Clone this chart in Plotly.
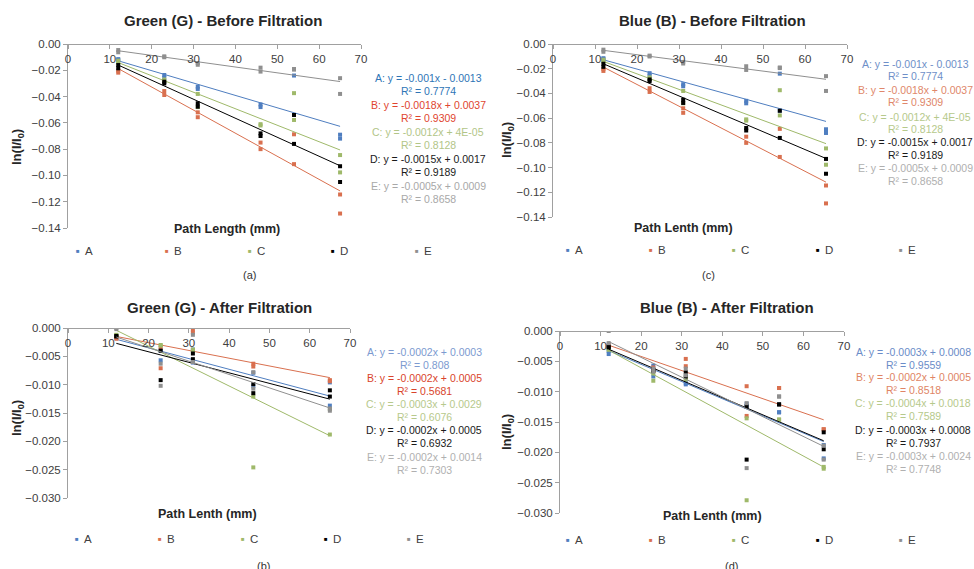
import numpy as np
import plotly.graph_objects as go

W, H = 974, 569
FONT = "Liberation Sans, Arial, sans-serif"

SERIES = ["A", "B", "C", "D", "E"]
MARKER_COLORS = ["#4F7EC0", "#D9704F", "#9FB96A", "#000000", "#8F8F8F"]

# ---------------- data: Green / Blue before filtration (identical readings) ----------------
X_BEFORE = [12, 12, 23, 23, 31, 31, 46, 46, 54, 54, 65, 65]
BEFORE_A = [-0.0115, -0.0122, -0.0236, -0.0256, -0.0325, -0.0342, -0.0460, -0.0480, -0.0240, -0.0540, -0.0690, -0.0720]
BEFORE_B = [-0.0203, -0.0218, -0.0358, -0.0388, -0.0520, -0.0557, -0.0750, -0.0800, -0.0687, -0.0914, -0.1145, -0.1290]
BEFORE_C = [-0.0127, -0.0140, -0.0270, -0.0285, -0.0380, -0.0480, -0.0610, -0.0620, -0.0374, -0.0578, -0.0845, -0.0977]
BEFORE_D = [-0.0160, -0.0185, -0.0287, -0.0300, -0.0451, -0.0477, -0.0680, -0.0700, -0.0540, -0.0760, -0.0930, -0.1050]
BEFORE_E = [-0.0046, -0.0063, -0.0094, -0.0101, -0.0145, -0.0158, -0.0180, -0.0210, -0.0190, -0.0195, -0.0260, -0.0380]

# ---------------- data: Green after filtration ----------------
X_G_AFTER = [12, 12, 23, 23, 31, 31, 46, 46, 65, 65]
G_AFTER_A = [-0.0015, -0.0016, -0.0040, -0.0057, -0.0038, -0.0061, -0.0079, -0.0103, -0.0096, -0.0137]
G_AFTER_B = [-0.0019, -0.0017, -0.0035, -0.0071, -0.0003, -0.0008, -0.0063, -0.0068, -0.0092, -0.0094]
G_AFTER_C = [-0.0012, -0.0013, -0.0030, -0.0031, -0.0038, -0.0040, -0.0121, -0.0246, -0.0188, -0.0143]
G_AFTER_D = [-0.0014, -0.0015, -0.0040, -0.0092, -0.0045, -0.0055, -0.0099, -0.0115, -0.0110, -0.0121]
G_AFTER_E = [0.0000, -0.0002, -0.0063, -0.0102, -0.0012, -0.0060, -0.0078, -0.0107, -0.0142, -0.0146]

# ---------------- data: Blue after filtration ----------------
X_B_AFTER = [12, 12, 23, 23, 31, 31, 46, 46, 54, 54, 65, 65]
B_AFTER_A = [-0.0038, -0.0033, -0.0057, -0.0075, -0.0086, -0.0088, -0.0120, -0.0125, -0.0134, -0.0134, -0.0188, -0.0210]
B_AFTER_B = [-0.0025, -0.0022, -0.0065, -0.0060, -0.0046, -0.0058, -0.0091, -0.0140, -0.0094, -0.0094, -0.0162, -0.0162]
B_AFTER_C = [-0.0031, -0.0029, -0.0070, -0.0082, -0.0078, -0.0080, -0.0144, -0.0279, -0.0146, -0.0146, -0.0224, -0.0227]
B_AFTER_D = [-0.0027, -0.0026, -0.0064, -0.0066, -0.0068, -0.0075, -0.0124, -0.0212, -0.0121, -0.0121, -0.0167, -0.0195]
B_AFTER_E = [0.0000, -0.0020, -0.0062, -0.0067, -0.0062, -0.0073, -0.0119, -0.0226, -0.0108, -0.0108, -0.0189, -0.0212]

# ---------------- text ----------------
TITLES = ["Green (G) - Before Filtration", "Blue (B) - Before Filtration",
          "Green (G) - After Filtration", "Blue (B) - After Filtration"]
XTITLES = ["Path Length (mm)", "Path Lenth (mm)", "Path Lenth (mm)", "Path Lenth (mm)"]
CAPTIONS = ["(a)", "(c)", "(b)", "(d)"]
EQ_BEFORE = ["A: y = -0.001x - 0.0013", "B: y = -0.0018x + 0.0037", "C: y = -0.0012x + 4E-05",
             "D: y = -0.0015x + 0.0017", "E: y = -0.0005x + 0.0009"]
R2_BEFORE = ["R² = 0.7774", "R² = 0.9309", "R² = 0.8128", "R² = 0.9189", "R² = 0.8658"]
EQ_G_AFTER = ["A: y = -0.0002x + 0.0003", "B: y = -0.0002x + 0.0005", "C: y = -0.0003x + 0.0029",
              "D: y = -0.0002x + 0.0005", "E: y = -0.0002x + 0.0014"]
R2_G_AFTER = ["R² = 0.808", "R² = 0.5681", "R² = 0.6076", "R² = 0.6932", "R² = 0.7303"]
EQ_B_AFTER = ["A: y = -0.0003x + 0.0008", "B: y = -0.0002x + 0.0005", "C: y = -0.0004x + 0.0018",
              "D: y = -0.0003x + 0.0008", "E: y = -0.0003x + 0.0024"]
R2_B_AFTER = ["R² = 0.9559", "R² = 0.8518", "R² = 0.7589", "R² = 0.7937", "R² = 0.7748"]

PANELS = [
    dict(x=X_BEFORE, ys=[BEFORE_A, BEFORE_B, BEFORE_C, BEFORE_D, BEFORE_E], eq=EQ_BEFORE, r2=R2_BEFORE,
         box=(68, 361, 44, 228), yr=-0.14, dt=0.02, fmt=".2f",
         eqc=["#2E75B6", "#E0452F", "#B2C587", "#1A1A1A", "#A8A8A8"],
         title=(223, 21), xt=(227, 229), yt=(17, 147), cap=(250, 275),
         eqx=428, eqy=[78, 105, 132, 159, 186], legy=251, legx=[78, 167, 250, 333, 417]),
    dict(x=X_BEFORE, ys=[BEFORE_A, BEFORE_B, BEFORE_C, BEFORE_D, BEFORE_E], eq=EQ_BEFORE, r2=R2_BEFORE,
         box=(553, 847, 44, 217), yr=-0.14, dt=0.02, fmt=".2f",
         eqc=["#6E8FC8", "#E0876A", "#B6C98B", "#1A1A1A", "#AFAFAF"],
         title=(712, 21), xt=(683, 228), yt=(507, 140), cap=(708, 275),
         eqx=915, eqy=[64, 90, 117, 142, 168], legy=250, legx=[568, 651, 734, 818, 901]),
    dict(x=X_G_AFTER, ys=[G_AFTER_A, G_AFTER_B, G_AFTER_C, G_AFTER_D, G_AFTER_E], eq=EQ_G_AFTER, r2=R2_G_AFTER,
         box=(68, 350, 328, 498), yr=-0.03, dt=0.005, fmt=".3f",
         eqc=["#7C9AD0", "#D9442B", "#B7C98C", "#1A1A1A", "#B0B0B0"],
         title=(219, 307), xt=(207, 514), yt=(17, 418), cap=(263, 566),
         eqx=424, eqy=[352, 378, 404, 430, 457], legy=539, legx=[77, 160, 243, 326, 409]),
    dict(x=X_B_AFTER, ys=[B_AFTER_A, B_AFTER_B, B_AFTER_C, B_AFTER_D, B_AFTER_E], eq=EQ_B_AFTER, r2=R2_B_AFTER,
         box=(560, 844, 331, 513), yr=-0.03, dt=0.005, fmt=".3f",
         eqc=["#6A8CC8", "#E08565", "#B6C98B", "#1A1A1A", "#B0B0B0"],
         title=(727, 307), xt=(712, 516), yt=(507, 432), cap=(731, 566),
         eqx=913, eqy=[352, 377, 403, 430, 456], legy=540, legx=[568, 651, 734, 818, 901]),
]


def fx(px):
    return px / W


def fy(py):
    return 1 - py / H


fig = go.Figure()
annotations = []
layout = {}

for i, p in enumerate(PANELS):
    n = "" if i == 0 else str(i + 1)
    xa, ya = "x" + n, "y" + n
    x0, x1, y0, y1 = p["box"]
    for s, (name, col, yv) in enumerate(zip(SERIES, MARKER_COLORS, p["ys"])):
        fig.add_trace(go.Scatter(x=p["x"], y=yv, mode="markers", name=name, xaxis=xa, yaxis=ya,
                                 marker=dict(symbol="square", size=4, color=col), showlegend=False))
        k, b = np.polyfit(np.array(p["x"], float), np.array(yv, float), 1)
        xs = np.array([min(p["x"]), max(p["x"])], float)
        fig.add_trace(go.Scatter(x=xs, y=k * xs + b, mode="lines", xaxis=xa, yaxis=ya,
                                 line=dict(color=col, width=1), showlegend=False, hoverinfo="skip"))
    layout["xaxis" + n] = dict(domain=[fx(x0), fx(x1)], range=[0, 70], anchor="free", position=fy(y0),
                               side="bottom", showline=True, linecolor="#A0A0A0", linewidth=1,
                               ticks="outside", ticklen=4, tickcolor="#A0A0A0", tick0=0, dtick=10,
                               showgrid=False, zeroline=False, automargin=False,
                               tickfont=dict(family=FONT, size=11.5, color="#404040"))
    layout["yaxis" + n] = dict(domain=[fy(y1), fy(y0)], range=[p["yr"], 0], anchor=xa,
                               showline=True, linecolor="#A0A0A0", linewidth=1,
                               ticks="outside", ticklen=4, tickcolor="#A0A0A0", tick0=0, dtick=p["dt"],
                               tickformat=p["fmt"], showgrid=False, zeroline=False, automargin=False,
                               tickfont=dict(family=FONT, size=11.5, color="#404040"))
    # titles
    annotations.append(dict(text="<b>" + TITLES[i] + "</b>", x=fx(p["title"][0]), y=fy(p["title"][1]),
                            font=dict(family=FONT, size=15, color="#262626")))
    annotations.append(dict(text="<b>" + XTITLES[i] + "</b>", x=fx(p["xt"][0]), y=fy(p["xt"][1]),
                            font=dict(family=FONT, size=12.5, color="#262626")))
    annotations.append(dict(text="<b>ln(I/I<sub>0</sub>)</b>", x=fx(p["yt"][0]), y=fy(p["yt"][1]),
                            textangle=-90, font=dict(family=FONT, size=13, color="#262626")))
    annotations.append(dict(text=CAPTIONS[i], x=fx(p["cap"][0]), y=fy(p["cap"][1]),
                            font=dict(family=FONT, size=11, color="#333333")))
    for s in range(5):
        annotations.append(dict(text=p["eq"][s], x=fx(p["eqx"]), y=fy(p["eqy"][s]),
                                font=dict(family=FONT, size=10.5, color=p["eqc"][s])))
        annotations.append(dict(text=p["r2"][s], x=fx(p["eqx"]), y=fy(p["eqy"][s] + 12.5),
                                font=dict(family=FONT, size=10.5, color=p["eqc"][s])))
        annotations.append(dict(text="■", x=fx(p["legx"][s]), y=fy(p["legy"]),
                                font=dict(family=FONT, size=6, color=MARKER_COLORS[s])))
        annotations.append(dict(text=SERIES[s], x=fx(p["legx"][s] + 5), y=fy(p["legy"]), xanchor="left",
                                font=dict(family=FONT, size=11.5, color="#404040")))

for a in annotations:
    a.setdefault("xanchor", "center")
    a.update(xref="paper", yref="paper", yanchor="middle", showarrow=False)

fig.update_layout(width=W, height=H, margin=dict(l=0, r=0, t=0, b=0, autoexpand=False),
                  paper_bgcolor="white", plot_bgcolor="white", showlegend=False,
                  annotations=annotations, font=dict(family=FONT), **layout)

fig.write_html("out.html", config={"displayModeBar": False},
               post_script="document.body.style.margin='0';document.body.style.overflow='hidden';")
